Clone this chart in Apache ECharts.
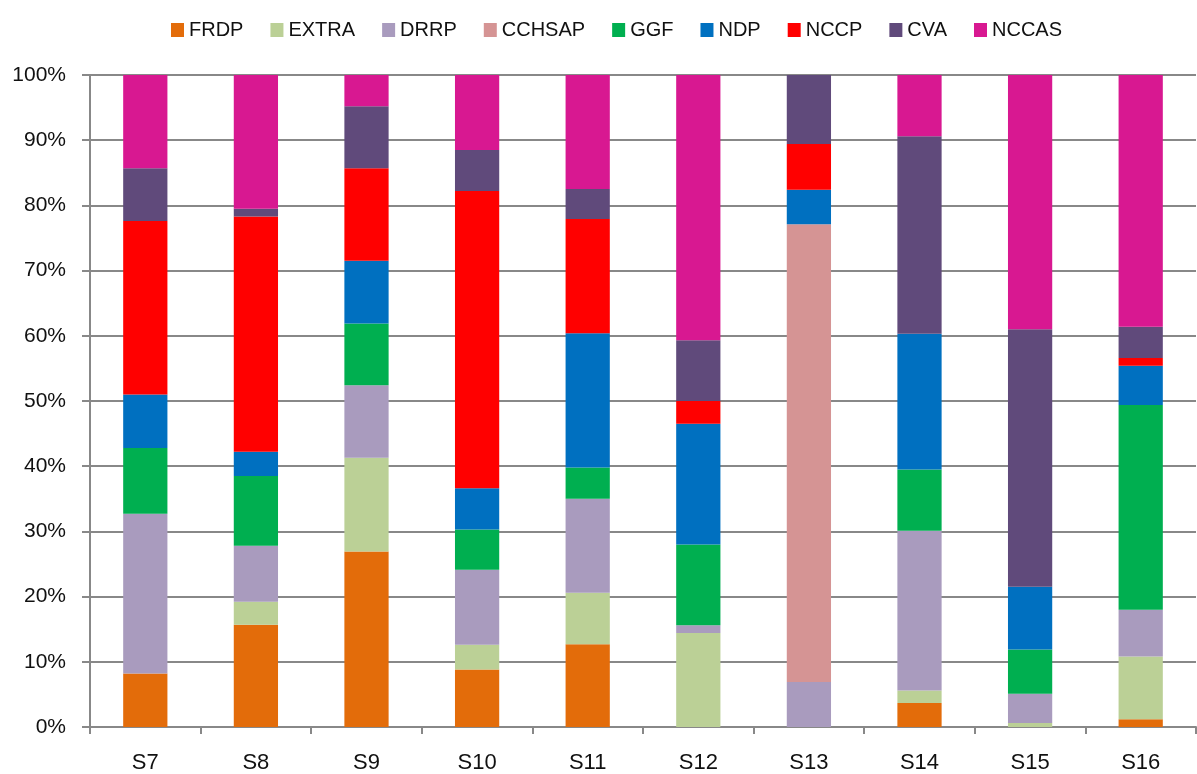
<!DOCTYPE html>
<html>
<head>
<meta charset="utf-8">
<script src="https://cdn.jsdelivr.net/npm/echarts@6/dist/echarts.min.js"></script>
<style>
  html, body { margin: 0; padding: 0; background: #fff; }
  #chart { width: 1197px; height: 774px; }
</style>
</head>
<body>
<div id="chart"></div>
<script>
// categories
const sites = ['S7', 'S8', 'S9', 'S10', 'S11', 'S12', 'S13', 'S14', 'S15', 'S16'];

// share of each programme per site (%)
const frdp   = [8.2, 15.7, 26.9, 8.8, 12.7, 0, 0, 3.7, 0, 1.2];
const extra  = [0, 3.5, 14.4, 3.8, 7.9, 14.4, 0, 1.9, 0.6, 9.6];
const drrp   = [24.5, 8.6, 11.1, 11.5, 14.4, 1.2, 6.9, 24.5, 4.5, 7.2];
const cchsap = [0, 0, 0, 0, 0, 0, 70.2, 0, 0, 0];
const ggf    = [10.1, 10.7, 9.5, 6.2, 4.8, 12.4, 0, 9.4, 6.8, 31.4];
const ndp    = [8.2, 3.7, 9.6, 6.3, 20.6, 18.5, 5.3, 20.8, 9.6, 6.0];
const nccp   = [26.6, 36.1, 14.2, 45.6, 17.5, 3.5, 7.0, 0, 0, 1.2];
const cva    = [8.1, 1.2, 9.5, 6.3, 4.6, 9.3, 10.6, 30.3, 39.5, 4.8];
const nccas  = [14.3, 20.5, 4.8, 11.5, 17.5, 40.7, 0, 9.4, 39.0, 38.6];

const yTicks = ['0%', '10%', '20%', '30%', '40%', '50%', '60%', '70%', '80%', '90%', '100%'];

const seriesList = [
    { name: 'FRDP', data: frdp, color: '#E36C0A' },
    { name: 'EXTRA', data: extra, color: '#BBD096' },
    { name: 'DRRP', data: drrp, color: '#A99BBE' },
    { name: 'CCHSAP', data: cchsap, color: '#D59494' },
    { name: 'GGF', data: ggf, color: '#00AF50' },
    { name: 'NDP', data: ndp, color: '#0070C0' },
    { name: 'NCCP', data: nccp, color: '#FF0000' },
    { name: 'CVA', data: cva, color: '#604A7B' },
    { name: 'NCCAS', data: nccas, color: '#D81891' }
];

const chart = echarts.init(document.getElementById('chart'));
const fontFam = '"Liberation Sans", Arial, sans-serif';

chart.setOption({
    animation: false,
    legend: {
        top: 15,
        left: 166,
        itemWidth: 13,
        itemHeight: 14,
        itemGap: 27,
        icon: 'rect',
        textStyle: { fontFamily: fontFam, fontSize: 20, color: '#111' },
        data: seriesList.map(s => s.name)
    },
    grid: { left: 90, right: 1, top: 75, bottom: 47, containLabel: false },
    xAxis: {
        type: 'category',
        data: sites,
        axisLine: { lineStyle: { color: '#888', width: 2 } },
        axisTick: { show: true, length: 7, lineStyle: { color: '#888', width: 2 } },
        axisLabel: { fontFamily: fontFam, fontSize: 22, color: '#111', margin: 25 }
    },
    yAxis: {
        type: 'value',
        min: 0,
        max: 100,
        interval: 10,
        axisLine: { show: true, lineStyle: { color: '#888', width: 2 } },
        axisTick: { show: true, length: 8, lineStyle: { color: '#888', width: 2 } },
        splitLine: { lineStyle: { color: '#888', width: 2 } },
        axisLabel: {
            fontFamily: fontFam,
            fontSize: 21,
            color: '#111',
            margin: 24,
            formatter: v => yTicks[Math.round(v / 10)]
        }
    },
    series: seriesList.map(s => ({
        name: s.name,
        type: 'bar',
        stack: 'total',
        barWidth: '40%',
        itemStyle: { color: s.color },
        data: s.data
    }))
});
</script>
</body>
</html>
